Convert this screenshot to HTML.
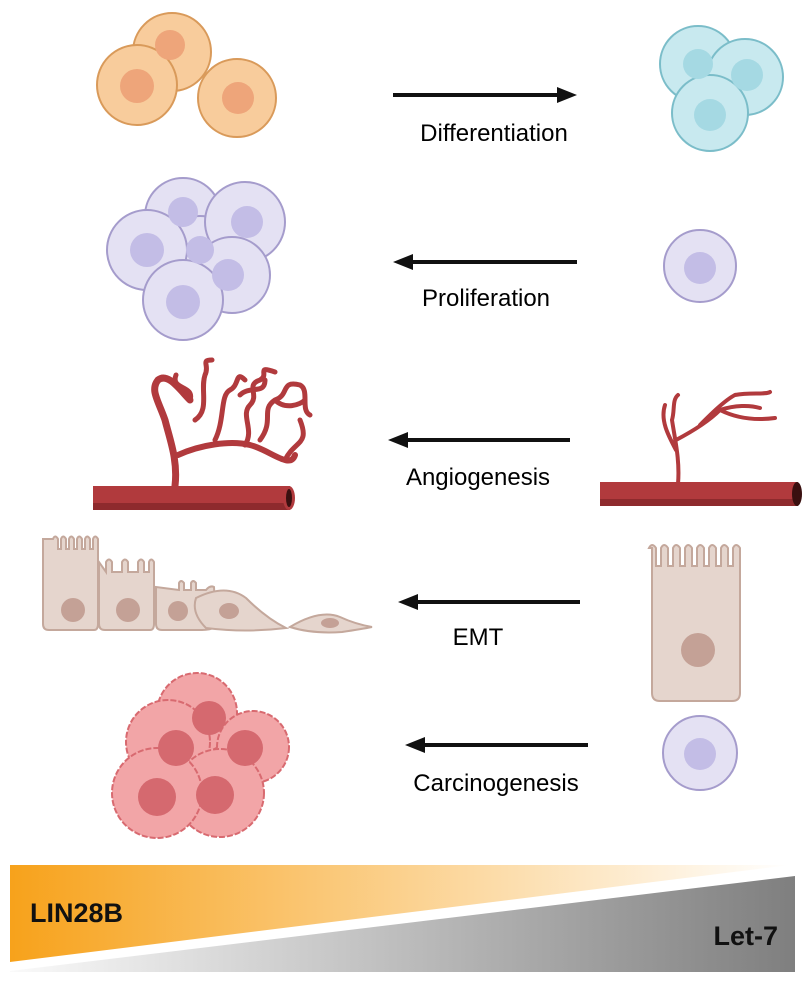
<!DOCTYPE html>
<html><head><meta charset="utf-8"><style>
body{margin:0;background:#fff}
text{font-family:"Liberation Sans",sans-serif}
</style></head><body>
<svg width="805" height="977" viewBox="0 0 805 977" xmlns="http://www.w3.org/2000/svg">
<defs>
<marker id="ah" markerWidth="20" markerHeight="16" refX="0" refY="8" orient="auto" markerUnits="userSpaceOnUse" viewBox="0 0 20 16"><path d="M0,0 L20,8 L0,16z" fill="#111"/></marker>
<linearGradient id="og" x1="0" x2="1"><stop offset="0" stop-color="#f7a21b"/><stop offset="1" stop-color="#fff"/></linearGradient>
<linearGradient id="gg" x1="0" x2="1"><stop offset="0" stop-color="#fafafa"/><stop offset="1" stop-color="#7f7f7f"/></linearGradient>
</defs>
<!-- Row1 orange -->
<g stroke="#d99a5a" stroke-width="2" fill="#f8cc9c">
<circle cx="172" cy="52" r="39"/><circle cx="137" cy="85" r="40"/><circle cx="237" cy="98" r="39"/>
</g>
<g fill="#eea57a"><circle cx="170" cy="45" r="15"/><circle cx="137" cy="86" r="17"/><circle cx="238" cy="98" r="16"/></g>
<!-- blue -->
<g stroke="#7bbdc9" stroke-width="2" fill="#c8e9ef">
<circle cx="698" cy="64" r="38"/><circle cx="745" cy="77" r="38"/><circle cx="710" cy="113" r="38"/>
</g>
<g fill="#a5d9e3"><circle cx="698" cy="64" r="15"/><circle cx="747" cy="75" r="16"/><circle cx="710" cy="115" r="16"/></g>
<line x1="393" y1="95" x2="557" y2="95" stroke="#111" stroke-width="4" marker-end="url(#ah)"/>
<text x="494" y="141" font-size="24" text-anchor="middle">Differentiation</text>
<!-- Row2 purple -->
<g stroke="#a59ccc" stroke-width="2" fill="#e4e1f3">
<circle cx="183" cy="216" r="38"/><circle cx="200" cy="250" r="34"/><circle cx="245" cy="222" r="40"/><circle cx="147" cy="250" r="40"/><circle cx="232" cy="275" r="38"/><circle cx="183" cy="300" r="40"/>
</g>
<g fill="#c3bde6"><circle cx="183" cy="212" r="15"/><circle cx="247" cy="222" r="16"/><circle cx="147" cy="250" r="17"/><circle cx="228" cy="275" r="16"/><circle cx="183" cy="302" r="17"/><circle cx="200" cy="250" r="14"/></g>
<circle cx="700" cy="266" r="36" fill="#e4e1f3" stroke="#a59ccc" stroke-width="2"/><circle cx="700" cy="268" r="16" fill="#c3bde6"/>
<line x1="577" y1="262" x2="413" y2="262" stroke="#111" stroke-width="4" marker-end="url(#ah)"/>
<text x="486" y="306" font-size="24" text-anchor="middle">Proliferation</text>
<!-- Row3 vessels -->
<g fill="none" stroke="#b13a3d" stroke-linecap="round">
<path d="M175,486 C178,460 170,440 165,420 C158,400 150,390 158,380 C168,372 180,390 190,400" stroke-width="7"/>
<path d="M178,455 C200,445 230,440 250,445 C270,450 290,470 295,455" stroke-width="6"/>
<path d="M190,400 C195,385 170,390 176,375 M195,420 C210,410 200,390 205,375 C210,365 200,360 212,360 M215,440 C225,420 220,395 230,390 C240,385 235,370 245,380 M245,445 C255,430 240,415 250,405 C260,395 245,385 260,380 C270,375 255,365 275,372 M260,440 C275,420 260,410 275,400 C290,395 280,380 300,385 C310,390 300,410 310,415 M285,460 C295,440 310,445 300,420 M240,395 C250,385 265,395 265,380 M275,400 C285,410 300,405 305,400" stroke-width="5"/>
</g>
<rect x="93" y="486" width="197" height="24" fill="#b13a3d"/>
<rect x="93" y="503" width="197" height="7" fill="#8e2a2d"/>
<ellipse cx="289" cy="498" rx="6" ry="12" fill="#b13a3d"/><ellipse cx="289" cy="498" rx="3" ry="9" fill="#3a1010"/>
<g fill="none" stroke="#b13a3d" stroke-linecap="round">
<path d="M678,484 C680,460 675,440 672,420 M676,450 C668,435 660,420 665,405 M676,440 C695,430 710,420 720,410 C735,405 750,405 760,408 M700,425 C710,415 725,400 735,395 M720,410 C740,420 760,420 775,418 M735,395 C750,392 765,395 770,392 M672,420 C675,410 672,400 678,395" stroke-width="4"/>
</g>
<rect x="600" y="482" width="198" height="24" fill="#b13a3d"/>
<rect x="600" y="499" width="198" height="7" fill="#8e2a2d"/>
<ellipse cx="797" cy="494" rx="5" ry="12" fill="#3a1010"/>
<line x1="570" y1="440" x2="408" y2="440" stroke="#111" stroke-width="4" marker-end="url(#ah)"/>
<text x="478" y="485" font-size="24" text-anchor="middle">Angiogenesis</text>
<!-- Row4 EMT -->
<g fill="#e5d5cd" stroke="#c4a89c" stroke-width="2">
<path d="M43,539 l0,85 q0,6 6,6 h45 q4,0 4,-6 l0,-85 q-3,-5 -5,0 v10 h-3 v-10 q-3,-5 -5,0 v10 h-3 v-10 q-3,-5 -5,0 v10 h-3 v-10 q-3,-5 -5,0 v10 h-3 v-10 q-3,-5 -5,0 v10 h-3 v-10 q-3,-5 -5,0z"/>
<path d="M99,562 v62 q0,6 6,6 h45 q4,0 4,-6 v-62 q-3,-5 -5,0 v10 h-5 v-10 q-3,-5 -6,0 v10 h-10 v-10 q-3,-5 -6,0 v10 h-10 v-10 q-3,-5 -6,0 v10z"/>
<path d="M156,587 v37 q0,6 6,6 h40 q8,0 14,-3 l-2,-40 q-4,-2 -8,3 h-10 v-7 q-3,-4 -5,0 v7 h-7 v-7 q-3,-4 -5,0 v7z"/>
<path d="M196,598 q30,-15 50,0 q20,20 40,30 q-40,5 -80,0 q-15,-15 -10,-30z"/>
<path d="M290,627 q30,-18 50,-10 q15,7 32,10 q-10,2 -30,5 q-30,2 -52,-5z"/>
</g>
<g fill="#c4a196"><circle cx="73" cy="610" r="12"/><circle cx="128" cy="610" r="12"/><circle cx="178" cy="611" r="10"/><ellipse cx="229" cy="611" rx="10" ry="8"/><ellipse cx="330" cy="623" rx="9" ry="5"/></g>
<path d="M652,548 v145 q0,8 8,8 h72 q8,0 8,-8 v-145 q-4,-6 -7,0 v18 h-5 v-18 q-4,-6 -7,0 v18 h-5 v-18 q-4,-6 -7,0 v18 h-5 v-18 q-4,-6 -7,0 v18 h-5 v-18 q-4,-6 -7,0 v18 h-5 v-18 q-4,-6 -7,0 v18 h-5 v-18 q-4,-6 -7,0 v18 h-5 v-18 q-4,-6 -7,0z" fill="#e5d5cd" stroke="#c4a89c" stroke-width="2"/>
<circle cx="698" cy="650" r="17" fill="#c4a196"/>
<line x1="580" y1="602" x2="418" y2="602" stroke="#111" stroke-width="4" marker-end="url(#ah)"/>
<text x="478" y="645" font-size="24" text-anchor="middle">EMT</text>
<!-- Row5 cancer -->
<g fill="#f2a5a7" stroke="#d86a70" stroke-width="2" stroke-dasharray="6 2">
<circle cx="197" cy="713" r="40"/><circle cx="253" cy="747" r="36"/><circle cx="168" cy="742" r="42"/><circle cx="220" cy="793" r="44"/><circle cx="157" cy="793" r="45"/>
</g>
<g fill="#d5696f"><circle cx="209" cy="718" r="17"/><circle cx="245" cy="748" r="18"/><circle cx="176" cy="748" r="18"/><circle cx="215" cy="795" r="19"/><circle cx="157" cy="797" r="19"/></g>
<circle cx="700" cy="753" r="37" fill="#e4e1f3" stroke="#a59ccc" stroke-width="2"/><circle cx="700" cy="754" r="16" fill="#c3bde6"/>
<line x1="588" y1="745" x2="425" y2="745" stroke="#111" stroke-width="4" marker-end="url(#ah)"/>
<text x="496" y="791" font-size="24" text-anchor="middle">Carcinogenesis</text>
<!-- bottom -->
<polygon points="10,865 790,865 10,962" fill="url(#og)"/>
<polygon points="10,971 795,876 795,972 10,972" fill="url(#gg)"/>
<text x="30" y="922" font-size="27" font-weight="bold" fill="#111">LIN28B</text>
<text x="778" y="945" font-size="27" font-weight="bold" fill="#111" text-anchor="end">Let-7</text>
</svg>
</body></html>
